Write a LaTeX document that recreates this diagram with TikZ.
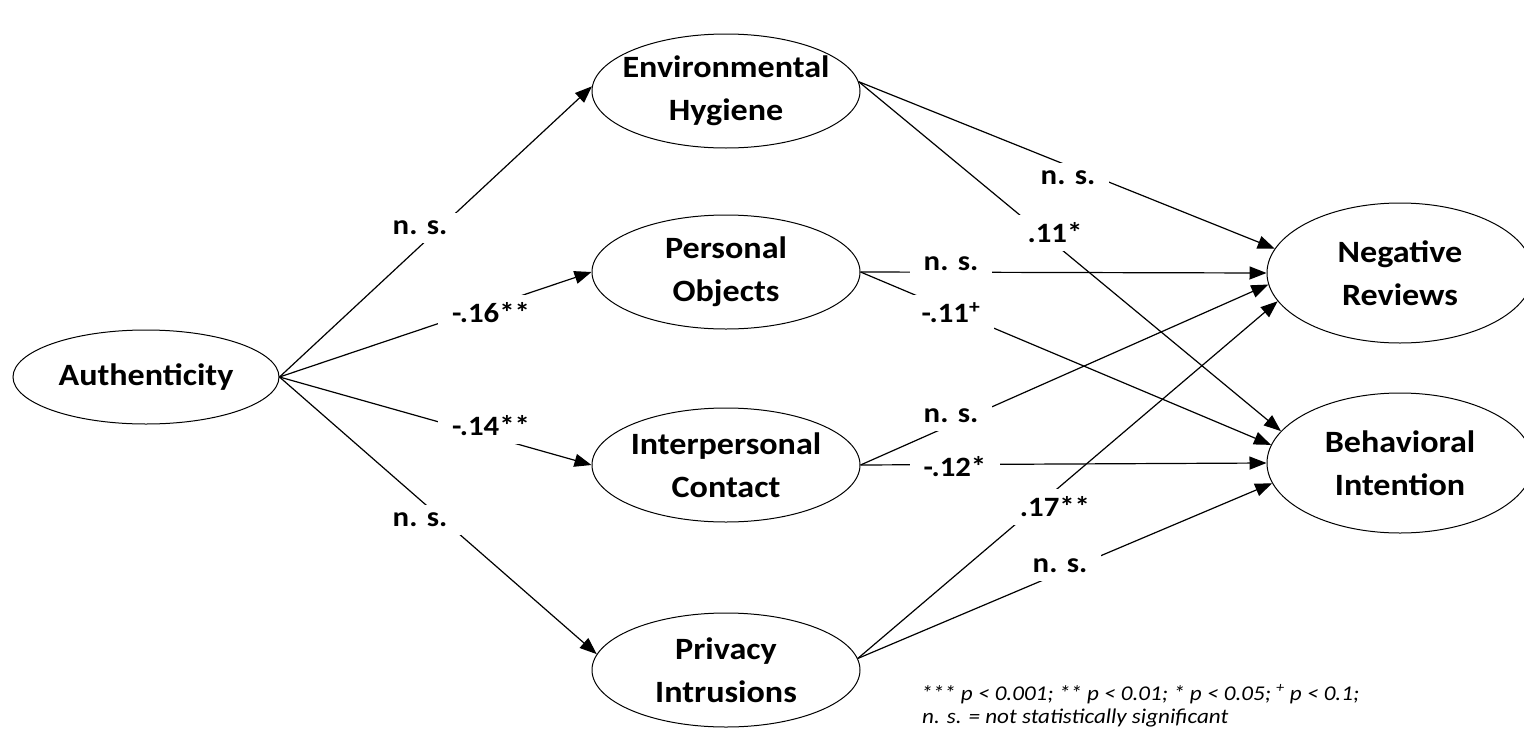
\documentclass[tikz,border=0pt]{standalone}
\usepackage{fontspec}
\setmainfont{Carlito}[FakeStretch=1.1]
\usetikzlibrary{arrows.meta,shapes.geometric}
\begin{document}
\begin{tikzpicture}[x=1pt,y=-1pt,
  var/.style={ellipse, draw, line width=1pt, minimum width=268pt, minimum height=114pt,
    inner sep=-40pt, align=center, font=\fontsize{31}{43}\selectfont\bfseries},
  outvar/.style={var, minimum width=266pt, minimum height=140pt},
  conn/.style={line width=1.2pt, -{Triangle[length=17pt,width=13pt]}},
  lbl/.style={fill=white, inner xsep=14pt, inner ysep=8pt, font=\fontsize{28}{30}\selectfont\bfseries},
  note/.style={anchor=base west, inner sep=0pt, font=\fontsize{21}{24}\selectfont\itshape}]
\useasboundingbox (0,0) rectangle (1524,731);
\fill[white] (0,0) rectangle (1524,731);

\node[var, minimum width=266pt, minimum height=94pt] (auth) at (146,377) {Authenticity};
\node[var] (eh) at (726,91) {Environmental\\Hygiene};
\node[var] (po) at (726,272) {Personal\\Objects};
\node[var] (ic) at (726,465) {Interpersonal\\Contact};
\node[var] (pi) at (726,670) {Privacy\\Intrusions};
\node[outvar] (nr) at (1400,273) {Negative\\Reviews};
\node[outvar] (bi) at (1400,463) {Behavioral\\Intention};

\draw[conn] (auth.east) -- (eh.178);
\draw[conn] (auth.east) -- (po.west);
\draw[conn] (auth.east) -- (ic.west);
\draw[conn] (auth.east) -- (pi.173);
\draw[conn] (eh.4) -- (nr.169);
\draw[conn] (eh.4) -- (bi.165);
\draw[conn] (po.east) -- (nr.west);
\draw[conn] (po.east) -- (bi.172);
\draw[conn] (ic.east) -- (nr.185);
\draw[conn] (ic.east) -- (bi.west);
\draw[conn] (pi.5) -- (nr.193);
\draw[conn] (pi.5) -- (bi.189);

\node[lbl] (l1) at (420,228) {n. s.};
\node[lbl] (l2) at (491,313) {-.16**};
\node[lbl] (l3) at (491,426) {-.14**};
\node[lbl] (l4) at (420,520) {n. s.};
\node[lbl] (l5) at (1068,178) {n. s.};
\node[lbl] (l6) at (1055,233) {.11*};
\node[lbl] (l7) at (951,264) {n. s.};
\node[lbl] (l8) at (951,313) {-.11\textsuperscript{+}};
\node[lbl] (l9) at (951,416) {n. s.};
\node[lbl] (l10) at (955,467) {-.12*};
\node[lbl] (l11) at (1055,507) {.17**};
\node[lbl] (l12) at (1060,566) {n. s.};

\node[note] (n1) at (921,700) {*** p < 0.001; ** p < 0.01; * p < 0.05; \textsuperscript{+} p < 0.1;};
\node[note] (n2) at (922,723) {n. s. = not statistically significant};
\end{tikzpicture}
\end{document}
